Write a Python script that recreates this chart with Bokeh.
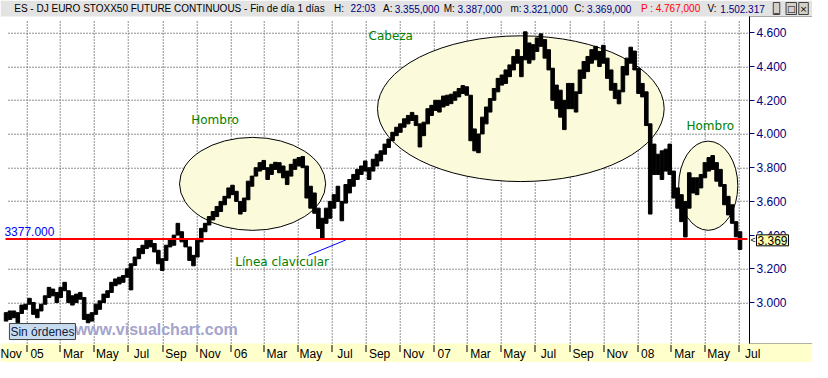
import math
import pandas as pd
from bokeh.plotting import figure
from bokeh.models import Range1d, FixedTicker, Label, LinearAxis, BoxAnnotation, Grid
from bokeh.embed import file_html
from bokeh.resources import INLINE

# ---------------- data (weekly ranges) ----------------
first_week = "2004-11-24"
week_high = [2940, 2950, 2950, 2940, 2985, 2990, 3025, 3000, 2960, 2990,
             3040, 3090, 3080, 3060, 3090, 3120, 3070, 3040, 3050, 3060,
             3030, 2930, 2940, 2990, 3010, 3050, 3070, 3120, 3140, 3150,
             3160, 3200, 3230, 3270, 3320, 3340, 3370, 3380, 3350, 3310,
             3260, 3340, 3380, 3400, 3470, 3420, 3380, 3330, 3280, 3370,
             3440, 3470, 3510, 3540, 3570, 3600, 3630, 3680, 3696, 3660,
             3600, 3620, 3720, 3750, 3800, 3830, 3843, 3800, 3820, 3832,
             3830, 3810, 3780, 3820, 3850, 3860, 3866, 3810, 3690, 3650,
             3560, 3500, 3560, 3600, 3640, 3690, 3600, 3700, 3730, 3760,
             3790, 3810, 3840, 3800, 3850, 3880, 3900, 3940, 3970, 4010,
             4040, 4060, 4090, 4110, 4128, 4110, 4060, 4070, 4150, 4170,
             4200, 4200, 4225, 4230, 4236, 4250, 4270, 4287, 4280, 4230,
             4030, 4000, 4100, 4160, 4210, 4270, 4330, 4350, 4380, 4410,
             4460, 4500, 4460, 4606, 4540, 4530, 4570, 4594, 4560, 4500,
             4390, 4290, 4260, 4200, 4300, 4300, 4250, 4380, 4430, 4460,
             4500, 4520, 4490, 4526, 4450, 4380, 4300, 4260, 4400, 4450,
             4515, 4492, 4390, 4300, 4250, 4060, 3940, 3880, 3900, 3910,
             3940, 3780, 3680, 3640, 3600, 3770, 3740, 3740, 3760, 3830,
             3860, 3872, 3830, 3790, 3700, 3630, 3580, 3480, 3420]
week_low = [2890, 2900, 2910, 2880, 2935, 2960, 2990, 2930, 2910, 2950,
            2990, 3030, 3040, 3000, 3030, 3070, 3000, 2985, 3000, 3020,
            2900, 2880, 2890, 2930, 2960, 3000, 3030, 3060, 3100, 3110,
            3120, 3150, 3075, 3220, 3260, 3290, 3320, 3330, 3300, 3230,
            3190, 3250, 3330, 3340, 3400, 3360, 3330, 3250, 3218, 3270,
            3360, 3420, 3460, 3490, 3510, 3540, 3580, 3620, 3640, 3600,
            3525, 3540, 3610, 3690, 3750, 3780, 3790, 3730, 3760, 3790,
            3770, 3740, 3700, 3750, 3790, 3810, 3800, 3620, 3560, 3530,
            3440, 3383, 3470, 3500, 3560, 3600, 3485, 3590, 3650, 3690,
            3730, 3760, 3780, 3730, 3780, 3810, 3840, 3880, 3920, 3960,
            3990, 4010, 4040, 4060, 4080, 4050, 3923, 3990, 4060, 4110,
            4140, 4130, 4160, 4170, 4180, 4200, 4220, 4240, 4230, 3960,
            3900, 3889, 4000, 4060, 4130, 4200, 4250, 4290, 4300, 4340,
            4380, 4420, 4340, 4440, 4420, 4440, 4490, 4520, 4450, 4380,
            4200, 4150, 4100, 4026, 4150, 4150, 4130, 4240, 4330, 4370,
            4420, 4440, 4400, 4420, 4330, 4260, 4210, 4179, 4250, 4350,
            4420, 4380, 4240, 4220, 4050, 3525, 3760, 3760, 3730, 3780,
            3760, 3620, 3560, 3480, 3389, 3560, 3650, 3640, 3680, 3740,
            3780, 3790, 3720, 3690, 3580, 3520, 3470, 3390, 3315]
last_close = 3369
neckline = 3377

x_tick_dates = ["2004-11-01", "2005-01-01", "2005-03-01", "2005-05-01", "2005-07-01",
                "2005-09-01", "2005-11-01", "2006-01-01", "2006-03-01", "2006-05-01",
                "2006-07-01", "2006-09-01", "2006-11-01", "2007-01-01", "2007-03-01",
                "2007-05-01", "2007-07-01", "2007-09-01", "2007-11-01", "2008-01-01",
                "2008-03-01", "2008-05-01", "2008-07-01"]
x_tick_labels = ["Nov", "05", "Mar", "May", "Jul", "Sep", "Nov", "06", "Mar", "May", "Jul",
                 "Sep", "Nov", "07", "Mar", "May", "Jul", "Sep", "Nov", "08", "Mar", "May", "Jul"]
y_ticks = [3000, 3200, 3400, 3600, 3800, 4000, 4200, 4400, 4600]
y_tick_labels = ["3.000", "3.200", "3.400", "3.600", "3.800", "4.000", "4.200", "4.400", "4.600"]

pattern_names = ["Hombro", "Cabeza", "Hombro"]
pattern_center_date = ["2006-02-09", "2007-06-05", "2008-05-06"]
pattern_span_days = [262, 514, 106]
pattern_center_price = [3704, 4150, 3693]
pattern_price_height = [552, 865, 529]
pattern_label_date = ["2005-10-22", "2006-09-05", "2008-03-28"]
pattern_label_price = [4085, 4580, 4048]

neck_label = "Línea clavicular"
neck_label_date = "2006-01-09"
neck_label_price = 3238
neck_pointer_dates = ["2006-05-20", "2006-07-26"]
neck_pointer_prices = [3280, 3371]

header_parts = [
    ("ES - DJ EURO STOXX50 FUTURE CONTINUOUS - Fin de día 1 días", 14, "#000000"),
    ("H:", 340, "#000000"), ("22:03", 357, "#000080"),
    ("A:", 390, "#000000"), ("3.355,000", 402, "#000080"),
    ("M:", 452, "#000000"), ("3.387,000", 466, "#000080"),
    ("m:", 520, "#000000"), ("3.321,000", 533, "#000080"),
    ("C:", 585, "#000000"), ("3.369,000", 598, "#000080"),
    ("P : 4.767,000", 653, "#ff0000"),
    ("V:", 721, "#000000"), ("1.502.317", 734, "#000080"),
]

# ---------------- geometry helpers ----------------
DAY = 86400000.0


def ms(d):
    return pd.Timestamp(d).value / 1e6


W, H = 812, 362
FW = 749              # width of the price panel (left of the price axis)
TOP, BOT = 16, 19     # header strip / date strip heights
SC = W / 828.0

x_start, x_axis = ms("2004-11-14"), ms("2008-07-19")
y_low, y_high = 2757, 4697
mspx = (x_axis - x_start) / FW
ppx = (y_high - y_low) / (H - TOP - BOT)
x_end = x_start + W * mspx
y_top = y_high + TOP * ppx
y_bot = y_low - BOT * ppx


def snap_x(t):
    px = (t - x_start) / mspx
    return x_start + (math.floor(px) + 0.5) * mspx


def snap_y(v):
    py = (y_top - v) / ppx
    return y_top - (math.floor(py) + 0.5) * ppx


week_x = [pd.Timestamp(t).value / 1e6 for t in pd.date_range(first_week, periods=len(week_high), freq="7D")]

p = figure(width=W, height=H, output_backend="svg", toolbar_location=None,
           x_range=Range1d(x_start, x_end), y_range=Range1d(y_bot, y_top),
           x_axis_location=None, y_axis_location=None,
           min_border_left=0, min_border_right=0, min_border_top=0, min_border_bottom=0)
p.xgrid.visible = False
p.ygrid.visible = False
p.border_fill_color = "white"
p.background_fill_color = "white"
p.outline_line_color = None

# header strip and date strip
p.add_layout(BoxAnnotation(bottom=y_high, fill_color="#e3e3e3", fill_alpha=1, line_color=None, level="underlay"))
p.add_layout(BoxAnnotation(top=y_low, fill_color="#ffffcc", fill_alpha=1, line_color=None, level="underlay"))
p.add_layout(BoxAnnotation(left=x_axis, bottom=y_low, top=y_high, fill_color=None,
                           line_color="black", line_width=1, level="underlay"))

# dotted grid from the tick arrays
true_ticks = [int(ms(d)) for d in x_tick_dates]
vis_ticks = [snap_x(t) for t in true_ticks if t > x_start]
n = len(vis_ticks)
gy = [snap_y(t) for t in y_ticks if t != 3400]
p.add_layout(Grid(dimension=0, ticker=FixedTicker(ticks=vis_ticks), cross_bounds=(y_low, y_high - 3 * ppx),
                  grid_line_color="#808080", grid_line_width=1, grid_line_dash="1 2"), "center")
p.add_layout(Grid(dimension=1, ticker=FixedTicker(ticks=gy), cross_bounds=(x_start + 8 * mspx, x_axis),
                  grid_line_color="#808080", grid_line_width=1, grid_line_dash="1 2"), "center")
p.segment(x0=vis_ticks, y0=[y_low] * n, x1=vis_ticks, y1=[y_high - 3 * ppx] * n,
          line_color="#808080", line_width=1, line_dash="1 2")
p.segment(x0=[x_start + 8 * mspx] * len(gy), y0=gy, x1=[x_axis] * len(gy), y1=gy,
          line_color="#808080", line_width=1, line_dash="1 2")

# date tick marks in the date strip
p.segment(x0=vis_ticks, y0=[y_low - 1.5 * ppx] * n, x1=vis_ticks, y1=[y_low - 8.5 * ppx] * n,
          line_color="black", line_width=1)

# x axis labels, just to the right of each month mark
label_ticks, overrides = [], {}
for t, lab in zip(true_ticks, x_tick_labels):
    lt = int(t + (3 + len(lab) * 3.4) * mspx)
    label_ticks.append(lt)
    overrides[lt] = lab
xa_lab = LinearAxis(fixed_location=y_low, ticker=FixedTicker(ticks=label_ticks),
                    major_label_overrides=overrides, major_tick_line_color=None,
                    major_tick_out=0, major_tick_in=0, minor_tick_line_color=None,
                    axis_line_color=None, major_label_standoff=3,
                    major_label_text_font="Liberation Sans", major_label_text_font_size="12px",
                    major_label_text_color="black")
p.add_layout(xa_lab, "below")

# price axis
ya = LinearAxis(fixed_location=x_axis, bounds=(y_low, y_high), ticker=FixedTicker(ticks=y_ticks),
                major_label_overrides={t: l for t, l in zip(y_ticks, y_tick_labels)},
                axis_line_color="black", major_tick_line_color="#000080", major_tick_out=5,
                major_tick_in=0, minor_tick_line_color=None, major_label_standoff=2,
                major_label_text_font="Liberation Sans", major_label_text_font_size="12px",
                major_label_text_color="#000080")
p.add_layout(ya, "right")

# pattern ellipses
p.ellipse(x=[ms(d) for d in pattern_center_date], y=pattern_center_price,
          width=[d * DAY for d in pattern_span_days], height=pattern_price_height,
          fill_color="#fbfbdc", line_color="black", line_width=1)

# price bars
p.vbar(x=week_x, top=week_high, bottom=week_low, width=6.4 * DAY,
       fill_color="black", line_color="black", line_width=1)

# neckline
p.segment(x0=[x_start + 5 * mspx], y0=[neckline], x1=[x_axis - 2 * mspx], y1=[neckline],
          line_color="#ff0000", line_width=2)
p.segment(x0=[ms(neck_pointer_dates[0])], y0=[neck_pointer_prices[0]],
          x1=[ms(neck_pointer_dates[1])], y1=[neck_pointer_prices[1]],
          line_color="#0000ff", line_width=1)

GREEN = "#008000"
for name, d, pr in zip(pattern_names, pattern_label_date, pattern_label_price):
    p.add_layout(Label(x=ms(d), y=pr, text=name, text_color=GREEN, text_font="DejaVu Sans",
                       text_font_size="12px", text_baseline="middle", text_align="left"))
p.add_layout(Label(x=ms(neck_label_date), y=neck_label_price, text=neck_label, text_color=GREEN,
                   text_font="DejaVu Sans", text_font_size="12px", text_baseline="middle"))

p.add_layout(Label(x=ms("2004-11-21"), y=3423, text="3377.000", text_color="#0000ff",
                   text_font="Liberation Sans", text_font_size="12px", text_baseline="middle"))

p.add_layout(Label(x=ms("2005-03-27"), y=2840, text="www.visualchart.com", text_color="#a4a4cc",
                   text_font="Liberation Sans", text_font_size="16px", text_font_style="bold",
                   text_baseline="middle"))
p.add_layout(Label(x=ms("2004-11-30"), y=2828, text="Sin órdenes", text_color="#102040",
                   text_font="Liberation Sans", text_font_size="12px", text_baseline="middle",
                   background_fill_color="#c8dcf0", border_line_color="#404040", padding=1))

# last price marker on the price axis
p.add_layout(Label(x=x_axis, y=last_close, x_offset=1, text="<", text_color="black",
                   text_font="Liberation Sans", text_font_size="9px", text_baseline="middle"))
p.add_layout(Label(x=x_axis, y=last_close, x_offset=7, text="3.369", text_color="black",
                   text_font="Liberation Sans", text_font_size="12px", text_baseline="middle",
                   background_fill_color="#ffffb0", border_line_color="black", padding=1))

# header texts
hy = y_high + 8 * ppx
for txt, xpx, col in header_parts:
    p.add_layout(Label(x=x_start, y=hy, x_offset=xpx * SC, text=txt, text_color=col,
                       text_font="Liberation Sans", text_font_size="10px", text_baseline="middle"))
for i, sym in enumerate(["_", "□", "×"]):
    p.add_layout(Label(x=x_start, y=hy, x_offset=(788 + 13 * i) * SC, text=sym, text_color="black",
                       text_font="DejaVu Sans", text_font_size="9px", text_baseline="middle",
                       background_fill_color="#d4d0c8", border_line_color="#404040", padding=1))

open("out.html", "w").write(file_html(p, INLINE))
